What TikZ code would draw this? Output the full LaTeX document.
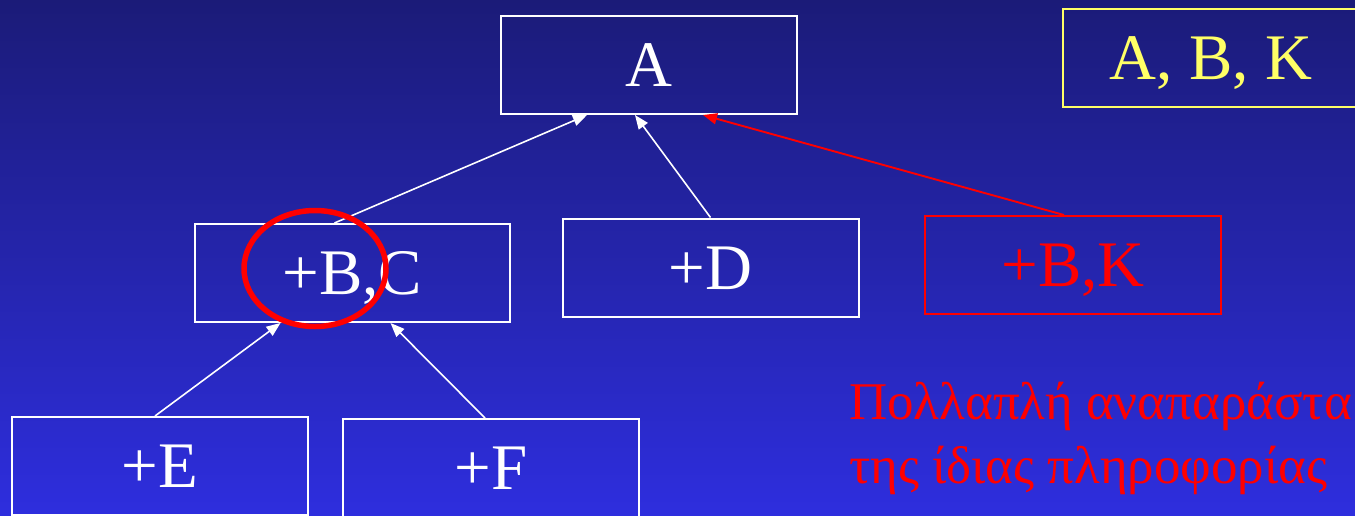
\documentclass[tikz,border=0pt]{standalone}
\usepackage{fontspec}
\setmainfont{Liberation Serif}
\usetikzlibrary{arrows.meta}
\definecolor{slidetop}{HTML}{1B1B78}
\definecolor{slidebot}{HTML}{2E2EDE}
\definecolor{notered}{HTML}{FF0000}
\definecolor{keyyellow}{HTML}{FFFF66}
\newcommand{\BoxFont}{\fontsize{65}{78}\selectfont}
\newcommand{\NoteFont}{\fontsize{53}{64}\selectfont}

\begin{document}
\begin{tikzpicture}[x=1pt,y=-1pt,
 box/.style={draw=white,line width=2pt,minimum width=296pt,
   minimum height=98pt,inner sep=0pt,text=white,font=\BoxFont,
   text height=43pt,text depth=0pt},
 redbox/.style={box,draw=notered,text=notered},
 keybox/.style={box,draw=keyyellow,text=keyyellow},
 link/.style={-{Triangle[length=14pt,width=11pt]},white,line width=1.6pt},
 redlink/.style={link,notered,line width=1.9pt},
 note/.style={anchor=base west,inner sep=0pt,text=notered,font=\NoteFont}]

% slide background, clipped to the page so the edge boxes are cut off
\clip (0,0) rectangle (1355,515);
\shade[top color=slidetop,bottom color=slidebot] (0,0) rectangle (1355,515);

% class tree
\node[box] (A) at (649,65) {A};
\node[keybox] (ABK) at (1211,57.5) {A, B, K};
\node[box,minimum width=315pt] (BC) at (352.5,273) {+B,C};
\node[box] (D) at (710.5,267.5) {+D};
\node[redbox] (BK) at (1073,265) {+B,K};
\node[box] (E) at (160,466) {+E};
\node[box] (F) at (491,468) {+F};

\draw[link] ([xshift=-18pt]BC.north) -- ([xshift=-62pt]A.south);
\draw[link] (D.north) -- ([xshift=-14pt]A.south);
\draw[redlink] ([xshift=-9pt]BK.north) -- ([xshift=54pt]A.south);
\draw[link] ([xshift=-5pt]E.north) -- ([xshift=-72pt]BC.south);
\draw[link] ([xshift=-6pt]F.north) -- ([xshift=38pt]BC.south);

% repeated information is circled
\draw[notered,line width=5.5pt] (315,268.5) ellipse [x radius=71,y radius=58];

\node[note] (noteA) at (849,419) {Πολλαπλή αναπαράστα};
\node[note] (noteB) at (849,483) {της ίδιας πληροφορίας};
\end{tikzpicture}
\end{document}
